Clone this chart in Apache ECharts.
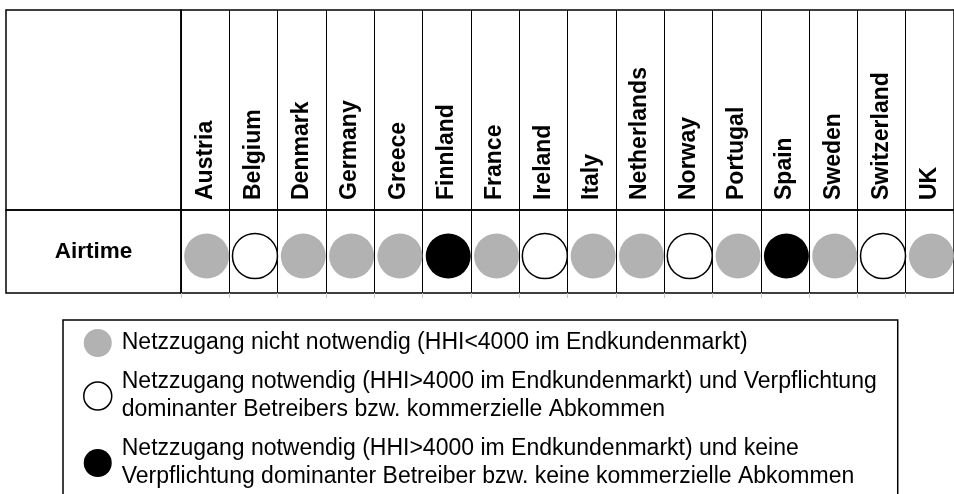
<!DOCTYPE html>
<html>
<head>
<meta charset="utf-8">
<script src="https://cdn.jsdelivr.net/npm/echarts@6/dist/echarts.min.js"></script>
<style>
  html, body { margin: 0; padding: 0; background: #fff; }
  #chart { width: 954px; height: 494px; }
</style>
</head>
<body>
<div id="chart"></div>
<script>
// countries across the top of the table
const countries = ['Austria', 'Belgium', 'Denmark', 'Germany', 'Greece', 'Finnland', 'France', 'Ireland',
    'Italy', 'Netherlands', 'Norway', 'Portugal', 'Spain', 'Sweden', 'Switzerland', 'UK'];
const rowLabels = ['Airtime'];
// 0 = nicht notwendig, 1 = notwendig + Verpflichtung, 2 = notwendig + keine Verpflichtung
const airtimeStatus = [0, 1, 0, 0, 0, 2, 0, 1, 0, 0, 1, 0, 2, 0, 1, 0];
const statusLabels = [
    'Netzzugang nicht notwendig (HHI<4000 im Endkundenmarkt)',
    'Netzzugang notwendig (HHI>4000 im Endkundenmarkt) und Verpflichtung\ndominanter Betreibers bzw. kommerzielle Abkommen',
    'Netzzugang notwendig (HHI>4000 im Endkundenmarkt) und keine\nVerpflichtung dominanter Betreiber bzw. keine kommerzielle Abkommen'
];
const statusStyles = [
    { color: '#b2b2b2', borderColor: '#b2b2b2', borderWidth: 0, opacity: 1 },
    { color: '#ffffff', borderColor: '#000000', borderWidth: 1.5, opacity: 1 },
    { color: '#000000', borderColor: '#000000', borderWidth: 0, opacity: 1 }
];

const font = 'Liberation Sans, Arial, sans-serif';
const chart = echarts.init(document.getElementById('chart'));

const border = { show: true, borderColor: '#000', borderWidth: 1.5, backgroundColor: 'transparent' };
const hiddenValue = (gridIndex) => ({ type: 'value', gridIndex: gridIndex, show: false });

const series = statusLabels.map((name, s) => ({
    name: name,
    type: 'scatter',
    xAxisIndex: 2,
    yAxisIndex: 2,
    symbol: 'circle',
    symbolSize: 45,
    symbolOffset: [1.5, 4.5],
    itemStyle: statusStyles[s],
    emphasis: { disabled: true },
    data: countries
        .map((c, i) => airtimeStatus[i] === s ? [c, rowLabels[0]] : null)
        .filter(d => d !== null)
}));

const option = {
    backgroundColor: '#fff',
    animation: false,
    textStyle: { fontFamily: font },
    grid: [
        Object.assign({ left: 6, top: 10, width: 175, height: 200 }, border),   // label column, header
        Object.assign({ left: 6, top: 210, width: 175, height: 83 }, border),   // label column, data row
        Object.assign({ left: 181, top: 10, width: 785, height: 200 }, border), // country header
        Object.assign({ left: 181, top: 210, width: 785, height: 83 }, border)  // data row
    ],
    xAxis: [
        hiddenValue(0),
        hiddenValue(1),
        {
            type: 'category', gridIndex: 3, position: 'top', data: countries,
            axisLine: { show: false }, axisTick: { show: false },
            axisLabel: {
                interval: 0, rotate: -90, margin: 10,
                color: '#000', fontWeight: 'bold', fontSize: 23, fontFamily: font
            },
            splitLine: { show: true, interval: 0, lineStyle: { color: '#000', width: 1 } }
        },
        {
            type: 'category', gridIndex: 2, data: countries,
            axisLine: { show: false }, axisTick: { show: false }, axisLabel: { show: false },
            splitLine: { show: true, interval: 0, lineStyle: { color: '#000', width: 1 } }
        },
        {
            type: 'category', gridIndex: 3, position: 'bottom', data: countries,
            axisLine: { show: false }, axisLabel: { show: false },
            axisTick: { show: true, interval: 0, length: 5, lineStyle: { color: '#c8c8c8' } }
        }
    ],
    yAxis: [
        hiddenValue(0),
        hiddenValue(1),
        {
            type: 'category', gridIndex: 3, data: rowLabels,
            axisLine: { show: false }, axisTick: { show: false },
            axisLabel: {
                margin: 87.5, align: 'center', padding: [4, 0, 0, 0],
                color: '#000', fontWeight: 'bold', fontSize: 22.5, fontFamily: font
            }
        },
        hiddenValue(2)
    ],
    legend: {
        orient: 'vertical',
        left: 63,
        top: 320,
        height: 260,
        padding: [9, 21, 20, 20],
        itemGap: 11,
        itemWidth: 28,
        itemHeight: 28,
        borderColor: '#000',
        borderWidth: 1.5,
        selectedMode: false,
        icon: 'circle',
        textStyle: {
            color: '#000', fontSize: 23, lineHeight: 28, fontFamily: font,
            padding: [0, 0, 0, 5]
        },
        data: statusLabels.map((name, s) => ({ name: name, itemStyle: statusStyles[s] }))
    },
    series: series
};

chart.setOption(option);
</script>
</body>
</html>
